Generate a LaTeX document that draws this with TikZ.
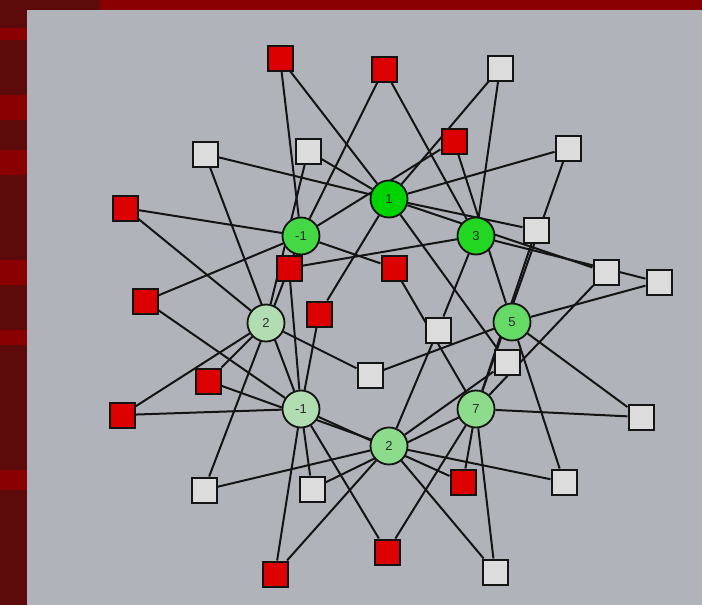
\documentclass[tikz,border=0pt]{standalone}
\usepackage{fontspec}
\setmainfont{Liberation Sans}
\usepackage{xcolor}
\usepackage{tikz}
\usetikzlibrary{backgrounds}
\definecolor{panelgray}{HTML}{B1B3BA}
\definecolor{framered}{HTML}{8A0000}
\definecolor{framedark}{HTML}{5C0A0A}
\definecolor{boxred}{HTML}{DC0000}
\definecolor{boxwhite}{HTML}{DCDCDC}
\definecolor{inkblack}{HTML}{141414}
\definecolor{gA}{HTML}{00D400}
\definecolor{gB}{HTML}{22D622}
\definecolor{gC}{HTML}{44D844}
\definecolor{gD}{HTML}{66DA66}
\definecolor{gE}{HTML}{8CDC8C}
\definecolor{gF}{HTML}{B2DCB2}
\tikzstyle{varnode} = [circle, minimum size=37pt, inner sep=0pt, draw=inkblack, line width=1.8pt, font=\fontsize{13}{15}\selectfont, text=inkblack!90]
\tikzstyle{redbox} = [rectangle, minimum size=25pt, inner sep=0pt, draw=inkblack, line width=2pt, fill=boxred]
\tikzstyle{whitebox} = [rectangle, minimum size=25pt, inner sep=0pt, draw=inkblack, line width=2pt, fill=boxwhite]
\tikzstyle{link} = [line width=2pt, draw=inkblack]

\begin{document}
\begin{tikzpicture}[x=1pt, y=-1pt]
    \useasboundingbox (0,0) rectangle (702,605);
    % Frame and panel
    \begin{scope}[on background layer]
        \fill[framedark] (0,0) rectangle (27,605);
        \fill[framedark] (27,0) rectangle (100,10);
        \fill[framered] (100,0) rectangle (702,10);
        \fill[framered] (0,28) rectangle (27,40);
        \fill[framered] (0,95) rectangle (27,120);
        \fill[framered] (0,150) rectangle (27,175);
        \fill[framered] (0,260) rectangle (27,285);
        \fill[framered] (0,330) rectangle (27,345);
        \fill[framered] (0,470) rectangle (27,490);
        \fill[panelgray] (27,10) rectangle (702,605);
    \end{scope}

    % Variables
    \node (c1) [varnode, fill=gA] at (389,199) {1};
    \node (cm1a) [varnode, fill=gC] at (301,236) {-1};
    \node (c3) [varnode, fill=gB] at (476,236) {3};
    \node (c2a) [varnode, fill=gF] at (266,323) {2};
    \node (c5) [varnode, fill=gD] at (512,322) {5};
    \node (cm1b) [varnode, fill=gF] at (301,409) {-1};
    \node (c7) [varnode, fill=gE] at (476,409) {7};
    \node (c2b) [varnode, fill=gE] at (389,446) {2};

    % Red boxes
    \node (r1) [redbox] at (280,58) {};
    \node (r2) [redbox] at (384,69) {};
    \node (r3) [redbox] at (454,141) {};
    \node (r4) [redbox] at (125,208) {};
    \node (r5) [redbox] at (289,268) {};
    \node (r6) [redbox] at (394,268) {};
    \node (r7) [redbox] at (145,301) {};
    \node (r8) [redbox] at (319,314) {};
    \node (r9) [redbox] at (208,381) {};
    \node (r10) [redbox] at (122,415) {};
    \node (r11) [redbox] at (463,482) {};
    \node (r12) [redbox] at (387,552) {};
    \node (r13) [redbox] at (275,574) {};

    % White boxes
    \node (w1) [whitebox] at (500,68) {};
    \node (w2) [whitebox] at (205,154) {};
    \node (w3) [whitebox] at (308,151) {};
    \node (w4) [whitebox] at (568,148) {};
    \node (w5) [whitebox] at (536,230) {};
    \node (w6) [whitebox] at (606,272) {};
    \node (w7) [whitebox] at (659,282) {};
    \node (w8) [whitebox] at (438,330) {};
    \node (w9) [whitebox] at (507,362) {};
    \node (w10) [whitebox] at (370,375) {};
    \node (w11) [whitebox] at (641,417) {};
    \node (w12) [whitebox] at (204,490) {};
    \node (w13) [whitebox] at (312,489) {};
    \node (w14) [whitebox] at (564,482) {};
    \node (w15) [whitebox] at (495,572) {};

    % Links
    \begin{scope}[on background layer]
        % top
        \draw [link] (r1) -- (c1);
        \draw [link] (r1) -- (cm1a);
        \draw [link] (r2) -- (cm1a);
        \draw [link] (r2) -- (c3);
        \draw [link] (w1) -- (c1);
        \draw [link] (w1) -- (c3);
        \draw [link] (r3) -- (cm1a);
        \draw [link] (r3) -- (c5);
        \draw [link] (w2) -- (c1);
        \draw [link] (w2) -- (cm1b);
        \draw [link] (w3) -- (c1);
        \draw [link] (w3) -- (c2a);
        \draw [link] (w4) -- (c1);
        \draw [link] (w4) -- (c7);
        \draw [link] (w5) -- (c1);
        \draw [link] (w5) -- (c7);
        % left
        \draw [link] (r4) -- (cm1a);
        \draw [link] (r4) -- (c2a);
        \draw [link] (r7) -- (cm1a);
        \draw [link] (r7) -- (cm1b);
        \draw [link] (r9) -- (c2a);
        \draw [link] (r9) -- (c2b);
        \draw [link] (r10) -- (c2a);
        \draw [link] (r10) -- (cm1b);
        \draw [link] (w12) -- (cm1a);
        \draw [link] (w12) -- (c2b);
        % inner
        \draw [link] (r5) -- (c3);
        \draw [link] (r5) -- (cm1b);
        \draw [link] (r6) -- (cm1a);
        \draw [link] (r6) -- (c7);
        \draw [link] (r8) -- (c1);
        \draw [link] (r8) -- (cm1b);
        \draw [link] (w8) -- (c3);
        \draw [link] (w8) -- (c2b);
        \draw [link] (w9) -- (c1);
        \draw [link] (w9) -- (c2b);
        \draw [link] (w10) -- (c2a);
        \draw [link] (w10) -- (c5);
        % right
        \draw [link] (w6) -- (c1);
        \draw [link] (w6) -- (c7);
        \draw [link] (w7) -- (c3);
        \draw [link] (w7) -- (c5);
        \draw [link] (w11) -- (c5);
        \draw [link] (w11) -- (c7);
        \draw [link] (w14) -- (c5);
        \draw [link] (w14) -- (c2b);
        % bottom
        \draw [link] (w13) -- (cm1b);
        \draw [link] (w13) -- (c7);
        \draw [link] (r11) -- (cm1b);
        \draw [link] (r11) -- (c7);
        \draw [link] (r12) -- (cm1b);
        \draw [link] (r12) -- (c7);
        \draw [link] (r13) -- (cm1b);
        \draw [link] (r13) -- (c2b);
        \draw [link] (w15) -- (c7);
        \draw [link] (w15) -- (c2b);
    \end{scope}
\end{tikzpicture}
\end{document}
